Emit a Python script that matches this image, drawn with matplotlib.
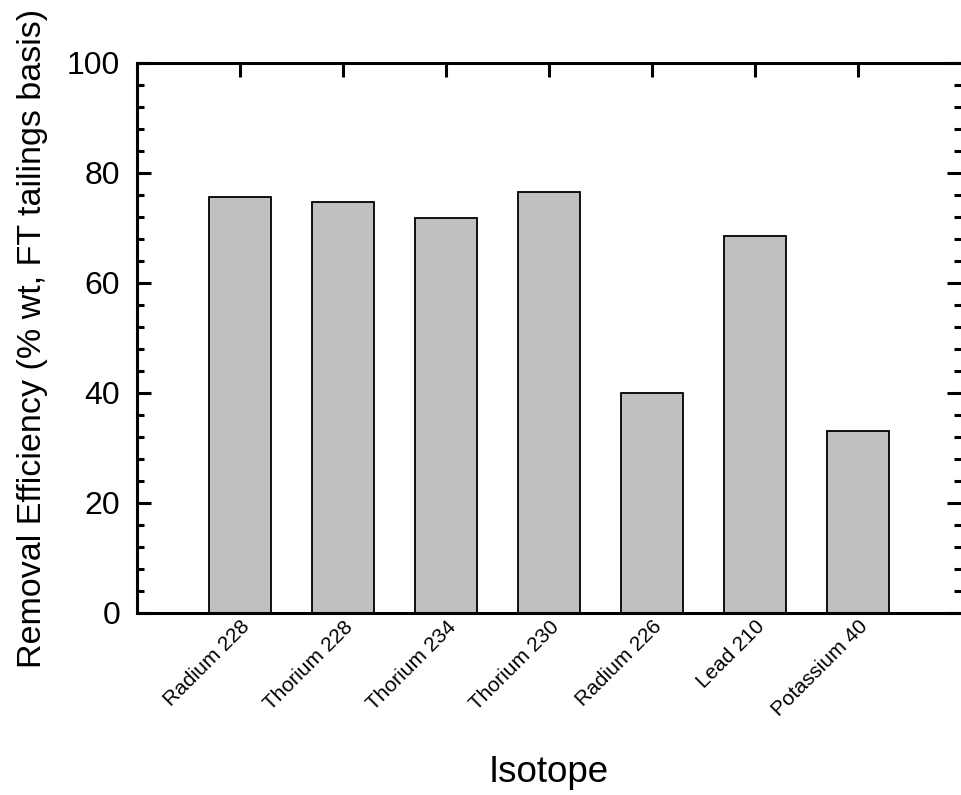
import numpy as np
import matplotlib.pyplot as plt
from matplotlib.ticker import MultipleLocator

isotopes = ["Radium 228", "Thorium 228", "Thorium 234", "Thorium 230",
            "Radium 226", "Lead 210", "Potassium 40"]
efficiency = [75.6, 74.8, 71.8, 76.5, 40.0, 68.6, 33.1]

plt.rcParams["font.family"] = ["Liberation Sans", "DejaVu Sans"]

fig = plt.figure(figsize=(9.61, 7.95), dpi=100)
ax = fig.add_axes([0.1426, 0.229, 0.8574, 0.6918])

x = np.arange(1, len(isotopes) + 1)
ax.bar(x, efficiency, width=0.61, color="#c0c0c0", edgecolor="black", linewidth=1.3, zorder=2)

ax.set_xlim(0, 8)
ax.set_ylim(0, 100)
ax.set_xticks(x)
ax.set_xticklabels(isotopes, rotation=45, ha="right", va="top", rotation_mode="anchor", fontsize=15)
ax.yaxis.set_major_locator(MultipleLocator(20))
ax.yaxis.set_minor_locator(MultipleLocator(4))

ax.spines["right"].set_visible(False)
for s in ["left", "bottom", "top"]:
    ax.spines[s].set_linewidth(2.2)

ax.tick_params(axis="y", which="major", direction="in", length=10, width=2.2,
               labelsize=23, right=True, pad=12)
ax.tick_params(axis="y", which="minor", direction="in", length=5, width=2.2, right=True)
ax.tick_params(axis="x", which="major", direction="in", length=10, width=2.2,
               top=True, bottom=False, pad=3)

ax.set_xlabel("Isotope", fontsize=26.5)
ax.xaxis.set_label_coords(0.5, -0.258)
ax.set_ylabel("Removal Efficiency (% wt, FT tailings basis)", fontsize=24.5, labelpad=14)

fig.savefig("out.png", dpi=100)
